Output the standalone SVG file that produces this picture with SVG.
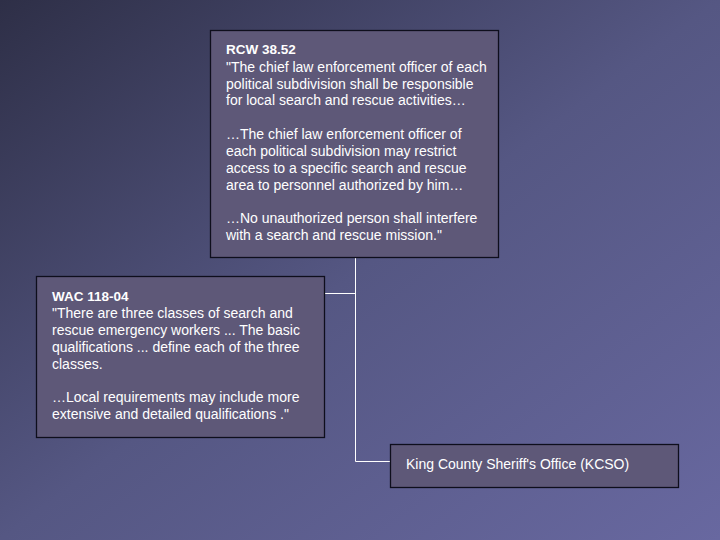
<svg xmlns="http://www.w3.org/2000/svg" width="720" height="540" viewBox="0 0 720 540">
<defs>
<linearGradient id="bg" x1="0" y1="0" x2="1" y2="1">
<stop offset="0" stop-color="#2e2f47"/>
<stop offset="0.5" stop-color="#555783"/>
<stop offset="1" stop-color="#6868a0"/>
</linearGradient>
</defs>
<style>
.box{fill:#5e5878;stroke:#0e0e1c;stroke-width:1.3}
.t{font-family:"Liberation Sans",Arial,sans-serif;font-size:14px;fill:#ffffff}
.b{font-weight:bold;font-size:13.5px}
.c{stroke:#ffffff;stroke-width:1;fill:none}
</style>
<rect width="720" height="540" fill="url(#bg)"/>
<g id="connectors">
<path class="c" d="M355.5 258 V461.5 H390 M325 293.5 H355.5"/>
</g>
<g id="rcw">
<rect class="box" x="210.5" y="30.5" width="288" height="227"/>
<text class="t" x="226"><tspan class="b" x="226" y="54">RCW 38.52</tspan><tspan x="226" y="72">"The chief law enforcement officer of each</tspan><tspan x="226" y="89">political subdivision shall be responsible</tspan><tspan x="226" y="105">for local search and rescue activities…</tspan><tspan x="226" y="139">…The chief law enforcement officer of</tspan><tspan x="226" y="156">each political subdivision may restrict</tspan><tspan x="226" y="173">access to a specific search and rescue</tspan><tspan x="226" y="190">area to personnel authorized by him…</tspan><tspan x="226" y="223">…No unauthorized person shall interfere</tspan><tspan x="226" y="240">with a search and rescue mission."</tspan></text>
</g>
<g id="wac">
<rect class="box" x="36.5" y="276.5" width="288" height="161"/>
<text class="t"><tspan class="b" x="52" y="301">WAC 118-04</tspan><tspan x="52" y="318">"There are three classes of search and</tspan><tspan x="52" y="335">rescue emergency workers ... The basic</tspan><tspan x="52" y="352">qualifications ... define each of the three</tspan><tspan x="52" y="369">classes.</tspan><tspan x="52" y="402">…Local requirements may include more</tspan><tspan x="52" y="419">extensive and detailed qualifications ."</tspan></text>
</g>
<g id="kcso">
<rect class="box" x="390.5" y="444.5" width="288" height="43"/>
<text class="t" x="406" y="469">King County Sheriff's Office (KCSO)</text>
</g>
</svg>
